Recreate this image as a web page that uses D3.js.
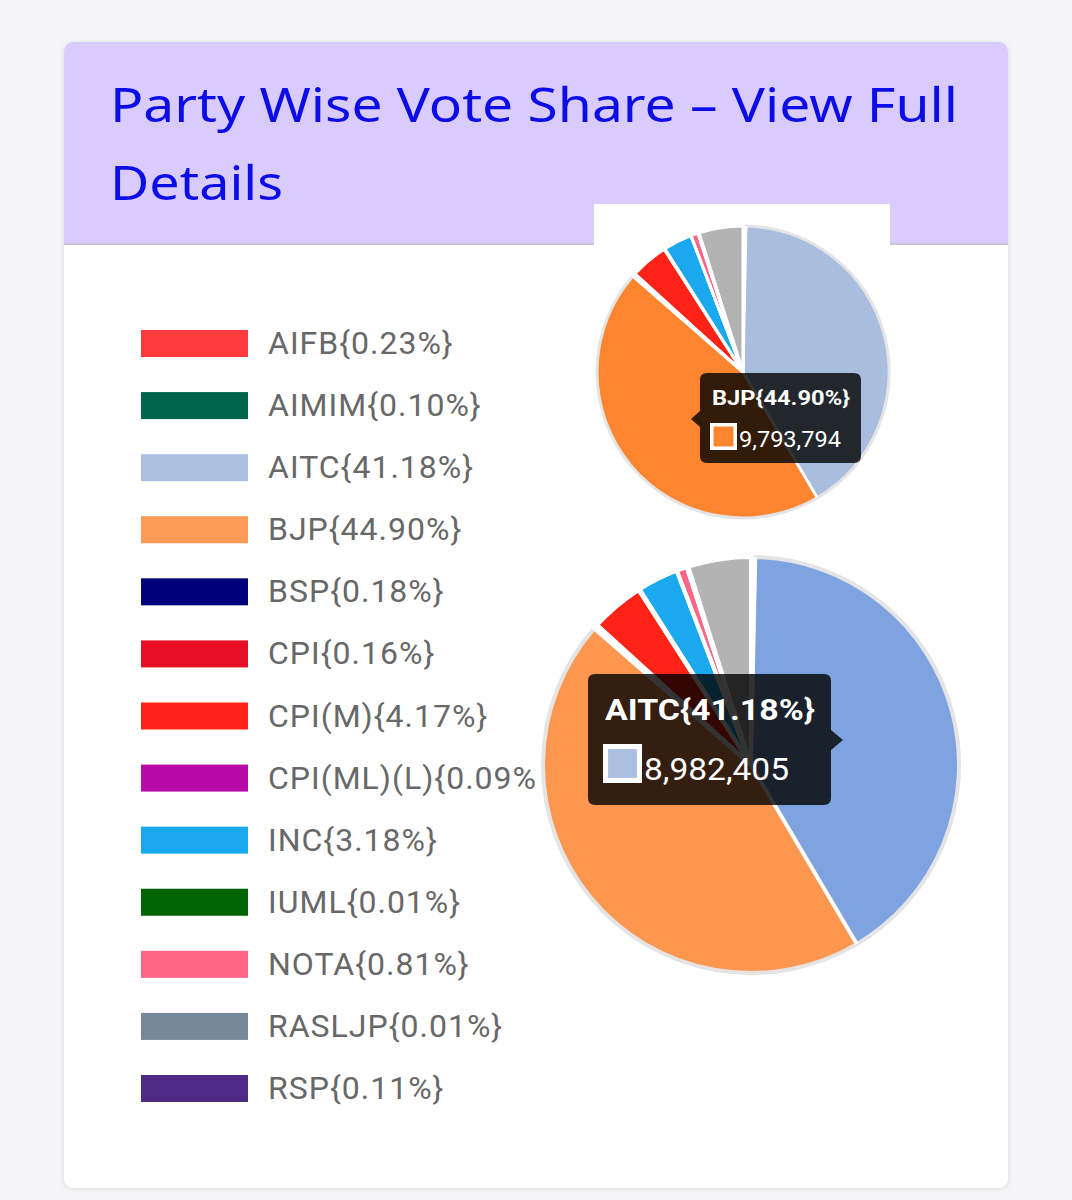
<!DOCTYPE html>
<html><head><meta charset="utf-8">
<script src="https://cdn.jsdelivr.net/npm/d3@7"></script>
<style>
html,body{margin:0;padding:0;background:#f5f5f7;}
svg{display:block;}
</style></head>
<body>
<svg id="c" width="1072" height="1200"></svg>
<script>
// ---- data ----
const parties = ["AIFB","AIMIM","AITC","BJP","BSP","CPI","CPI(M)","CPI(ML)(L)","INC","IUML","NOTA","RASLJP","RSP"];
const shares  = [0.23, 0.10, 41.18, 44.90, 0.18, 0.16, 4.17, 0.09, 3.18, 0.01, 0.81, 0.01, 0.11];
const legendColors = ["#ff3a3a","#00654a","#abbfe0","#fd9a58","#00007a","#e60f26","#ff2216","#b80aa6","#1aa9ee","#006400","#ff6587","#778898","#4c2a86"];
const othersLabel = "Others";
const othersShare = 4.87;
const othersColor = "#b3b3b3";
const smallPieColors = {AITC:"#a9bedf", BJP:"#fd8530"};
const largePieColors = {AITC:"#7fa3e1", BJP:"#fd974f"};
const tooltipSmall = {party:"BJP", share:"44.90%", votes:"9,793,794"};
const tooltipLarge = {party:"AITC", share:"41.18%", votes:"8,982,405"};
const titleLines = ["Party Wise Vote Share – View Full","Details"];

const svg = d3.select("#c");
const defs = svg.append("defs");
const f = defs.append("filter").attr("id","sh").attr("x","-5%").attr("y","-5%").attr("width","110%").attr("height","110%");
f.append("feDropShadow").attr("dx",0).attr("dy",1).attr("stdDeviation",2).attr("flood-color","#000").attr("flood-opacity",0.12);

// card
svg.append("rect").attr("x",64).attr("y",42).attr("width",944).attr("height",1146).attr("rx",9)
  .attr("fill","#fff").attr("filter","url(#sh)");
// header
const hdr = defs.append("clipPath").attr("id","hc");
hdr.append("rect").attr("x",64).attr("y",42).attr("width",944).attr("height",1146).attr("rx",9);
svg.append("rect").attr("x",64).attr("y",42).attr("width",944).attr("height",202)
  .attr("fill","#dacbfd").attr("clip-path","url(#hc)");
svg.append("rect").attr("x",64).attr("y",243).attr("width",944).attr("height",2).attr("fill","#cbc3d9");
const tt = svg.append("g");
titleLines.forEach((t,i)=>{
  const el = tt.append("text").attr("x",110).attr("y",122+i*78).attr("fill","#0c0ce6")
   .attr("font-family","'Noto Sans', sans-serif").attr("font-size",47).text(t);
  if(i===0) el.attr("textLength",848).attr("lengthAdjust","spacingAndGlyphs");
  else el.attr("textLength",173).attr("lengthAdjust","spacingAndGlyphs");
});

// legend
const legClip = defs.append("clipPath").attr("id","lc");
legClip.append("rect").attr("x",100).attr("y",300).attr("width",437).attr("height",850);
const leg = svg.append("g").attr("clip-path","url(#lc)");
const ly = d3.scaleLinear().domain([0,parties.length-1]).range([343,1088]);
parties.forEach((p,i)=>{
  leg.append("rect").attr("x",141).attr("y",ly(i)-13).attr("width",107).attr("height",27).attr("fill",legendColors[i]);
  leg.append("text").attr("x",268).attr("y",ly(i)+11).attr("fill","#686868")
    .attr("font-family","Roboto, sans-serif").attr("font-size",32).attr("letter-spacing",1)
    .text(p+"{"+shares[i].toFixed(2)+"%}");
});

// pie data
const pieData = parties.map((p,i)=>({party:p, value:shares[i], color:legendColors[i]}))
  .concat([{party:othersLabel, value:othersShare, color:othersColor}]);
const pie = d3.pie().sort(null).value(d=>d.value);
const arcs = pie(pieData);

function drawPie(cx, cy, r, overrides, sw){
  const g = svg.append("g").attr("transform",`translate(${cx},${cy})`);
  const arc = d3.arc().innerRadius(0).outerRadius(r);
  g.selectAll("path").data(arcs).join("path")
    .attr("d",arc)
    .attr("fill",d=>overrides[d.data.party]||d.data.color)
    .attr("stroke",d=>overrides[d.data.party] ? "#e4e4e4" : "#fff")
    .attr("stroke-width",sw)
    .attr("stroke-linejoin","round");
  g.selectAll("line").data(arcs).join("line")
    .attr("x1",0).attr("y1",0)
    .attr("x2",d=>Math.sin(d.startAngle)*r).attr("y2",d=>-Math.cos(d.startAngle)*r)
    .attr("stroke","#fff").attr("stroke-width",sw*0.8);
  return g;
}

svg.append("rect").attr("x",594).attr("y",204).attr("width",296).attr("height",42).attr("fill","#fff");
drawPie(743,372,146,smallPieColors,3);
drawPie(751,765,208,largePieColors,4);

function tooltip(o, x, y, w, h, arrowSide, arrowY, fsT, fsV, sw, swColor, pad, titleBase, valBase, tLen, vLen){
  const g = svg.append("g");
  const p = d3.path();
  const rr = 7;
  p.moveTo(x+rr,y); p.lineTo(x+w-rr,y); p.quadraticCurveTo(x+w,y,x+w,y+rr);
  if(arrowSide==="right"){ p.lineTo(x+w,arrowY-10); p.lineTo(x+w+12,arrowY); p.lineTo(x+w,arrowY+10); }
  p.lineTo(x+w,y+h-rr); p.quadraticCurveTo(x+w,y+h,x+w-rr,y+h);
  p.lineTo(x+rr,y+h); p.quadraticCurveTo(x,y+h,x,y+h-rr);
  if(arrowSide==="left"){ p.lineTo(x,arrowY+8); p.lineTo(x-9,arrowY); p.lineTo(x,arrowY-8); }
  p.lineTo(x,y+rr); p.quadraticCurveTo(x,y,x+rr,y); p.closePath();
  g.append("path").attr("d",p.toString()).attr("fill","rgba(0,0,0,0.8)");
  g.append("text").attr("x",x+pad).attr("y",titleBase).attr("fill","#fff")
    .attr("font-family","Roboto, sans-serif").attr("font-weight","bold").attr("font-size",fsT)
    .attr("textLength",tLen).attr("lengthAdjust","spacingAndGlyphs")
    .text(o.party+"{"+o.share+"}");
  const sy = valBase - sw + 3;
  g.append("rect").attr("x",x+pad-2).attr("y",sy).attr("width",sw).attr("height",sw)
    .attr("fill","#fff");
  const b = sw*0.13;
  g.append("rect").attr("x",x+pad-2+b).attr("y",sy+b).attr("width",sw-2*b).attr("height",sw-2*b)
    .attr("fill",swColor);
  g.append("text").attr("x",x+pad-2+sw+2).attr("y",valBase).attr("fill","#fff")
    .attr("font-family","Roboto, sans-serif").attr("font-size",fsV)
    .attr("textLength",vLen).attr("lengthAdjust","spacingAndGlyphs").text(o.votes);
}
tooltip(tooltipSmall, 700, 373, 161, 90, "left", 419, 21, 22, 27, smallPieColors.BJP, 12, 405, 447, 138, 102);
tooltip(tooltipLarge, 588, 674, 243, 131, "right", 740, 30, 32, 39, legendColors[2], 17, 720, 780, 210, 145);
</script>
</body></html>
